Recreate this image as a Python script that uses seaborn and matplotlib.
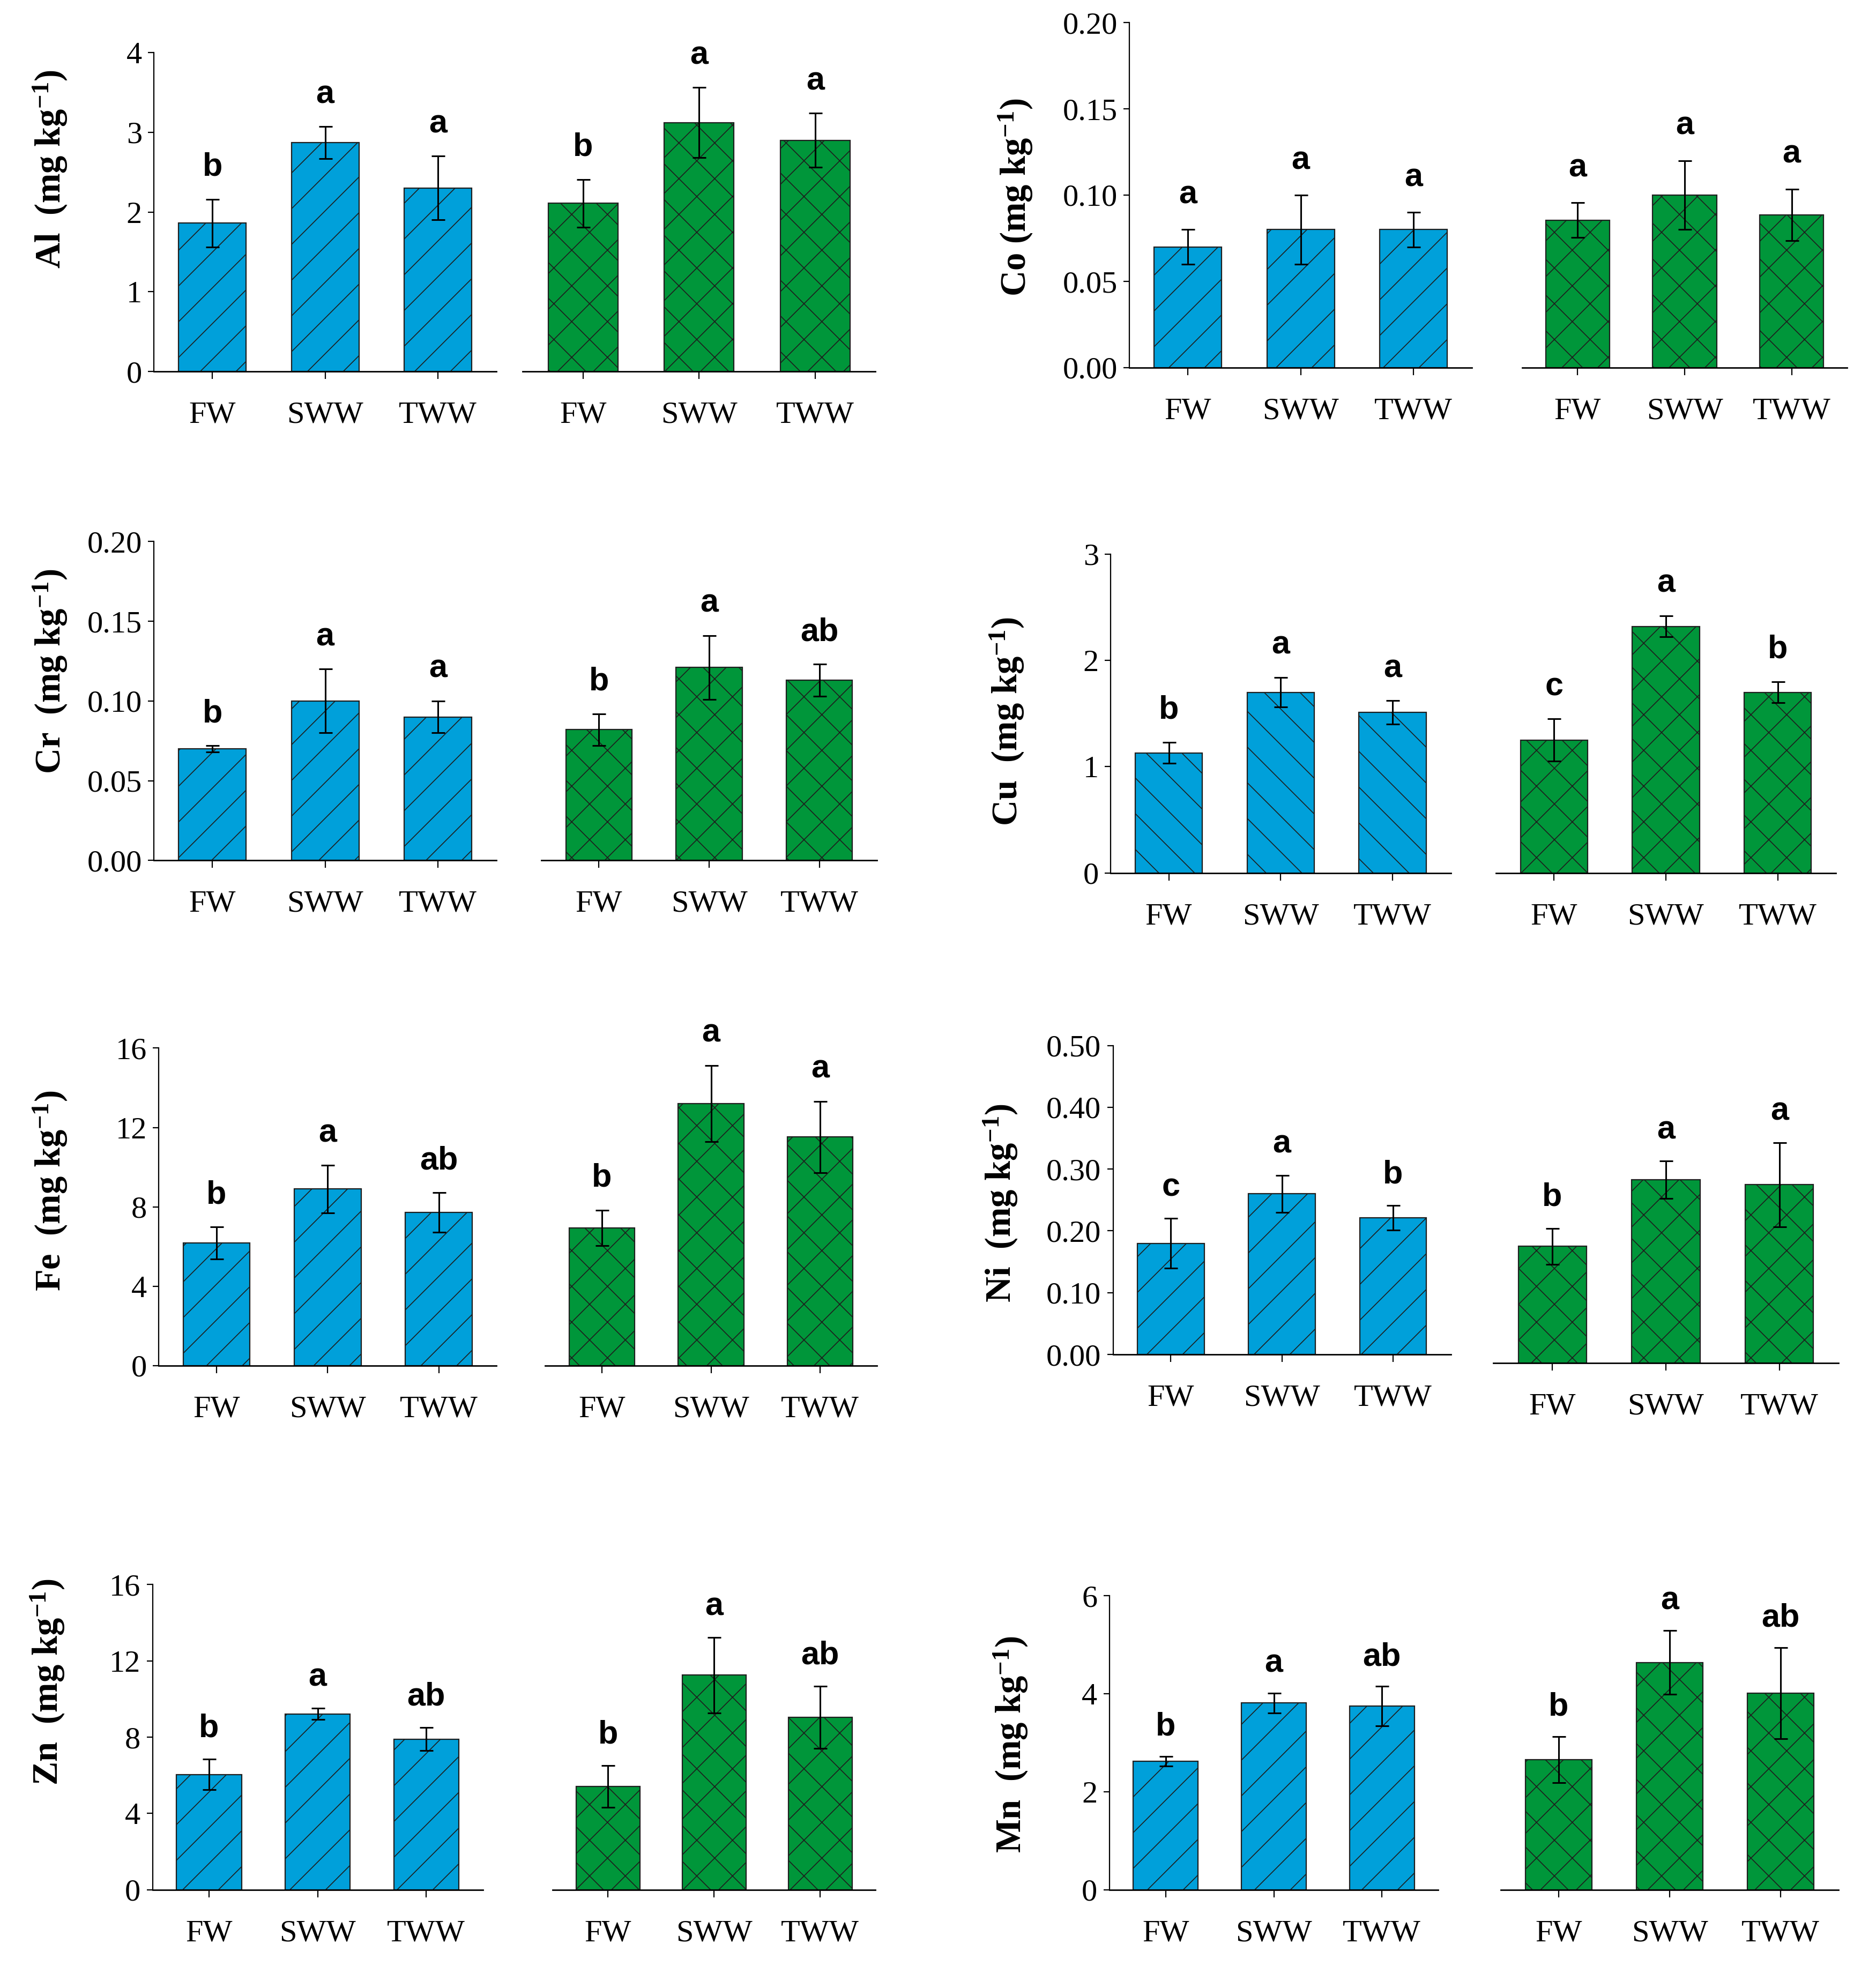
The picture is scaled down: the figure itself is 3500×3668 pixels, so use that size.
import numpy as np
import pandas as pd
import matplotlib
matplotlib.use("Agg")
import matplotlib.pyplot as plt
import seaborn as sns

# ---- data ----
elements = ["Al", "Co", "Cr", "Cu", "Fe", "Ni", "Zn", "Mn"]
ylabels = ["Al  (mg kg$^{-1}$)", "Co (mg kg$^{-1}$)", "Cr  (mg kg$^{-1}$)", "Cu  (mg kg$^{-1}$)",
           "Fe  (mg kg$^{-1}$)", "Ni  (mg kg$^{-1}$)", "Zn  (mg kg$^{-1}$)", "Mn  (mg kg$^{-1}$)"]
categories = ["FW", "SWW", "TWW"]

blue_means = {
    "Al": [1.86, 2.87, 2.30], "Co": [0.070, 0.080, 0.080], "Cr": [0.070, 0.100, 0.090],
    "Cu": [1.13, 1.70, 1.51], "Fe": [6.18, 8.90, 7.72], "Ni": [0.180, 0.260, 0.221],
    "Zn": [6.04, 9.22, 7.90], "Mn": [2.62, 3.81, 3.75],
}
blue_err = {
    "Al": [0.30, 0.20, 0.40], "Co": [0.010, 0.020, 0.010], "Cr": [0.002, 0.020, 0.010],
    "Cu": [0.10, 0.14, 0.11], "Fe": [0.81, 1.20, 1.00], "Ni": [0.040, 0.030, 0.020],
    "Zn": [0.80, 0.30, 0.60], "Mn": [0.10, 0.20, 0.40],
}
green_means = {
    "Al": [2.11, 3.12, 2.90], "Co": [0.0855, 0.100, 0.0885], "Cr": [0.082, 0.121, 0.113],
    "Cu": [1.25, 2.32, 1.70], "Fe": [6.94, 13.21, 11.52], "Ni": [0.189, 0.297, 0.289],
    "Zn": [5.42, 11.25, 9.04], "Mn": [2.66, 4.64, 4.01],
}
green_err = {
    "Al": [0.30, 0.44, 0.34], "Co": [0.010, 0.020, 0.015], "Cr": [0.010, 0.020, 0.010],
    "Cu": [0.20, 0.10, 0.10], "Fe": [0.90, 1.92, 1.80], "Ni": [0.029, 0.030, 0.068],
    "Zn": [1.10, 1.98, 1.63], "Mn": [0.47, 0.65, 0.93],
}
blue_letters = {
    "Al": ["b", "a", "a"], "Co": ["a", "a", "a"], "Cr": ["b", "a", "a"], "Cu": ["b", "a", "a"],
    "Fe": ["b", "a", "ab"], "Ni": ["c", "a", "b"], "Zn": ["b", "a", "ab"], "Mn": ["b", "a", "ab"],
}
green_letters = {
    "Al": ["b", "a", "a"], "Co": ["a", "a", "a"], "Cr": ["b", "a", "ab"], "Cu": ["c", "a", "b"],
    "Fe": ["b", "a", "a"], "Ni": ["b", "a", "a"], "Zn": ["b", "a", "ab"], "Mn": ["b", "a", "ab"],
}
y_max = {"Al": 4, "Co": 0.20, "Cr": 0.20, "Cu": 3, "Fe": 16, "Ni": 0.50, "Zn": 16, "Mn": 6}
y_step = {"Al": 1, "Co": 0.05, "Cr": 0.05, "Cu": 1, "Fe": 4, "Ni": 0.10, "Zn": 4, "Mn": 2}
y_fmt = {"Al": "{:.0f}", "Co": "{:.2f}", "Cr": "{:.2f}", "Cu": "{:.0f}",
         "Fe": "{:.0f}", "Ni": "{:.2f}", "Zn": "{:.0f}", "Mn": "{:.0f}"}

# ---- layout (reference pixel coords on a 1500 x 1572 grid) ----
# blue x0, x1, green x0, x1, y top, y bottom, green y bottom, ylabel x, ylabel y
layout = {
    "Al": (123, 397, 418, 700, 42, 297, 297, 40, 135),
    "Co": (903, 1177, 1217, 1477, 18, 294, 294, 812, 158),
    "Cr": (123, 397, 433, 701, 433, 688, 688, 40, 537),
    "Cu": (888, 1160, 1196, 1468, 443, 698, 698, 805, 577),
    "Fe": (127, 397, 436, 701, 838, 1092, 1092, 40, 952),
    "Ni": (890, 1160, 1194, 1470, 836, 1083, 1090, 800, 962),
    "Zn": (122, 386, 442, 700, 1267, 1511, 1511, 38, 1345),
    "Mn": (887, 1150, 1200, 1470, 1276, 1511, 1511, 808, 1395),
}
W, H = 1500.0, 1572.0

blue = "#00A0DA"
green = "#00963A"
edge = "#1e1e1e"

sns.set_theme(style="ticks")
plt.rcParams["font.family"] = ["Liberation Serif", "DejaVu Serif"]
plt.rcParams["mathtext.default"] = "regular"
plt.rcParams["hatch.linewidth"] = 0.6
plt.rcParams["hatch.color"] = edge
plt.rcParams["text.color"] = "black"

fig = plt.figure(figsize=(17.5, 18.34), dpi=200)


def make_ax(x0, x1, ytop, ybot):
    return fig.add_axes([x0 / W, 1 - ybot / H, (x1 - x0) / W, (ybot - ytop) / H])


for el, ylab in zip(elements, ylabels):
    bx0, bx1, gx0, gx1, yt, yb, gyb, lx, ly = layout[el]
    ax_b = make_ax(bx0, bx1, yt, yb)
    ax_g = make_ax(gx0, gx1, yt + (gyb - yb), gyb)
    hatch_b = "\\" if el == "Cu" else "/"
    for ax, means, errs, lets, col, hatch in [
        (ax_b, blue_means[el], blue_err[el], blue_letters[el], blue, hatch_b),
        (ax_g, green_means[el], green_err[el], green_letters[el], green, "x"),
    ]:
        df = pd.DataFrame({"Water": categories, "Value": means})
        sns.barplot(data=df, x="Water", y="Value", color=col, saturation=1, width=0.6,
                    hatch=hatch, edgecolor=edge, linewidth=0.8, ax=ax)
        ax.errorbar(range(3), means, yerr=errs, fmt="none", ecolor="black",
                    elinewidth=1.1, capsize=4.5, capthick=1.1)
        for i, (m, e, t) in enumerate(zip(means, errs, lets)):
            ax.text(i, m + e + 0.1 * y_max[el], t, ha="center", va="center", color="black",
                    fontsize=22, fontweight="bold", family=["Liberation Sans", "DejaVu Sans"])
        ax.set_xlim(-0.52, 2.52)
        ax.set_ylim(0, y_max[el])
        ax.set_xlabel("")
        ax.set_ylabel("")
        sns.despine(ax=ax)
        ax.tick_params(axis="x", length=5, width=0.8, pad=15, labelsize=21, colors="black")
        ax.spines["bottom"].set_linewidth(1.0)
        ax.spines["bottom"].set_color("black")
        ax.set_facecolor("none")
    ticks = np.arange(0, y_max[el] + y_step[el] / 2, y_step[el])
    ax_b.set_yticks(ticks)
    ax_b.set_yticklabels([y_fmt[el].format(t) for t in ticks])
    ax_b.tick_params(axis="y", length=4, width=0.8, pad=4, labelsize=21, colors="black")
    ax_b.spines["left"].set_linewidth(0.8)
    ax_b.spines["left"].set_color("black")
    ax_g.spines["left"].set_visible(False)
    ax_g.set_yticks([])
    fig.text(lx / W, 1 - ly / H, ylab, rotation=90, ha="center", va="center",
             fontsize=24, fontweight="bold", color="black")

fig.savefig("out.png", dpi=200, facecolor="white")
